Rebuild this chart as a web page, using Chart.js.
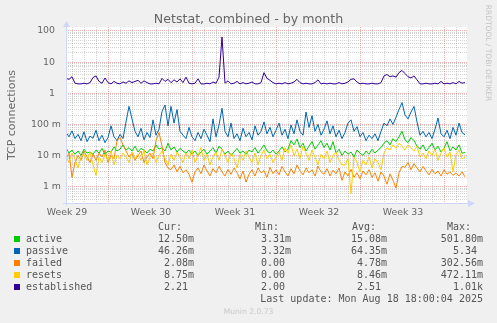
<!DOCTYPE html>
<html>
<head>
<meta charset="utf-8">
<script src="https://cdn.jsdelivr.net/npm/chart.js@4/dist/chart.umd.min.js"></script>
<style>
  html, body { margin: 0; padding: 0; background: #f0f0f0; }
  #wrap { position: relative; width: 497px; height: 323px; overflow: hidden; font-family: 'DejaVu Sans', sans-serif; color: #666; }
  canvas { position: absolute; left: 0; top: 0; }
  .t { position: absolute; white-space: pre; }
  #title { left: 0; top: 11px; width: 497px; text-align: center; font-size: 12.6px; line-height: 15px; }
  #ytitle { left: -88px; top: 108px; width: 200px; height: 14px; line-height: 14px; text-align: center; font-size: 11px; transform: rotate(-90deg); }
  #mark { left: 438px; top: 47px; width: 100px; height: 12px; line-height: 12px; text-align: center; font-size: 7.5px; color: #c4c4c4; transform: rotate(90deg); }
  #legend { position: absolute; left: 0; top: 0; width: 497px; height: 323px; font-family: 'DejaVu Sans Mono', monospace; font-size: 10px; line-height: 12px; color: #555; }
  .sw { position: absolute; width: 6px; height: 6px; left: 14px; }
  #munin { left: 0; width: 497px; top: 306px; text-align: center; font-size: 7.6px; line-height: 12px; color: #c8c8c8; }
</style>
</head>
<body>
<div id="wrap">
  <canvas id="c" width="497" height="323"></canvas>
  <div class="t" id="title">Netstat, combined - by month</div>
  <div class="t" id="ytitle">TCP connections</div>
  <div class="t" id="mark">RRDTOOL / TOBI OETIKER</div>
  <div id="legend"></div>
  <div class="t" id="munin">Munin 2.0.73</div>
</div>
<script>
// Time axis: one slot per 2-hour step, 401 slots across the month view.
const slotCount = 401;
const slotStep = 3;                        // samples below are every third slot
const weekLabels = ['Week 29', 'Week 30', 'Week 31', 'Week 32', 'Week 33'];
const weekStartSlots = [42, 126, 210, 294, 378];
const yTickValues = [0.001, 0.01, 0.1, 1, 10, 100];
const yTickLabels = ['1 m', '10 m', '100 m', '1\u2007', '10\u2007', '100\u2007'];

const seriesNames = ['active', 'passive', 'failed', 'resets', 'established'];
const seriesColors = ['#00CC00', '#0066B3', '#FF8000', '#FFCC00', '#330099'];

// Rates in thousandths (the "m" unit of the legend)
const activeMilli = [18,12,15,11,14,10,16,12,13,11, 15,12,17,11,14,13,19,14,16,22, 15,18,14,20,13,17,15,12,16,14,
  22,16,18,14,25,15,19,13,17,14, 12,15,11,14,10,13,16,11,14,18, 12,20,16,11,14,10,13,17,12,14,
  11,15,13,18,12,16,22,14,12,15, 11,14,19,13,16,30,22,34,18,25, 14,20,28,16,22,30,18,25,15,28,
  12,16,10,14,11,13,9,15,12,10, 14,11,16,12,15,18,25,30,22,35, 28,40,60,32,26,38,30,20,16,22,
  14,18,25,15,20,13,17,28,14,19, 15,22,12,12.5];
const passiveMilli = [55,40,62,35,48,30,58,28,42,36, 65,30,45,26,38,90,40,30,48,35, 120,380,150,60,40,75,32,55,38,140,
  45,70,260,420,90,380,110,300,60,45, 35,80,40,30,55,35,70,45,28,150, 40,95,330,60,40,110,35,50,30,75,
  40,55,32,90,45,60,120,50,80,40, 65,110,45,70,35,95,50,140,60,45, 250,80,190,60,100,45,70,130,50,90,
  40,65,35,55,110,140,60,85,40,55, 30,45,35,50,30,60,110,90,150,100, 170,300,500,200,150,250,380,120,45,60,
  40,55,35,70,160,50,40,65,35,80, 45,110,55,46.26];
const failedMilli = [8,12,2.0,6,10,7,14,9,6,11, 7,12,9,15,6,10,8,30,38,22, 14,9,12,7,10,14,6,9,12,8,
  30,55,20,6,4,3.5,5,3,4.5,2.8, 3.5,2.5,1.4,3,4,2.6,5,3.2,2.2,3.8, 2.8,4.5,3,2.2,3.6,2.5,4,2.8,1.8,3.2,
  1.4,2.5,3.5,2.2,4,2.8,3.3,2,4.2,2.6, 3.5,2.4,4.5,3,2.2,3.8,2.6,5,3.2,2.4, 4,2.8,3.5,2.2,4.6,3,2.5,3.8,2.2,3.4,
  2.6,4,1.6,3,2.2,3.6,2,2.8,1.8,3.2, 2.4,3.5,2,2.8,1.5,3,2.2,1.2,2.6,1.6, 0.9,2.8,4.5,4.2,6,3.5,5.5,4,3,4.5,
  3.2,2.4,3.6,2.6,3.2,2.2,3.5,2.5,3,2.3, 2.8,2.2,3,2.08];
const resetsMilli = [10,6,12,8,4,9,11,7,13,5, 2.3,9,6,11,7,14,5,10,8,12, 9,6,13,8,11,7,15,5,9,12,
  6,10,14,8,5,11,7,13,9,6, 12,8,15,6,10,18,7,11,5,9, 13,7,16,10,6,12,8,4,11,7,
  14,9,6,12,5,10,15,8,11,6, 9,13,7,18,12,22,10,16,8,20, 12,7,15,9,5,11,8,14,6,10,
  13,7,5,5,8,0.6,9,6,3,7, 5,9,4,8,6,3.5,12,18,15,22, 17,25,20,15,22,18,14,20,9,12,
  8,14,10,16,7,12,18,9,13,3, 11,15,8,8.75];
// Established connections (plain units)
const established = [3.0,2.8,3.4,2.1,2.0,2.0,2.1,2.0,2.2,3.2, 3.6,2.4,2.1,3.1,2.2,2.0,2.4,2.1,2.0,2.3, 2.1,2.5,2.2,2.4,2.6,2.1,2.5,2.2,2.0,2.0,
  2.1,2.0,3.0,2.4,2.8,2.2,2.7,2.3,2.9,2.2, 3.3,2.1,2.0,2.1,2.9,2.0,2.0,2.1,2.0,2.3, 2.1,3.3,64,2.1,2.5,2.0,2.1,2.4,2.0,2.2,
  2.0,2.1,2.3,2.0,2.0,2.2,4.6,3.0,2.6,2.2, 2.0,2.1,2.0,2.2,2.0,2.1,2.3,2.8,2.2,2.0, 2.1,2.0,2.0,2.2,2.7,2.0,2.1,2.0,2.1,2.0,
  2.0,2.2,2.0,2.1,2.3,2.8,2.9,2.3,2.0,2.1, 2.0,2.0,2.1,2.0,2.0,2.2,3.6,4.0,3.4,3.6, 3.3,4.6,5.4,4.3,3.4,3.1,3.6,2.7,2.0,2.0,
  2.1,2.0,2.0,2.1,2.0,2.4,2.0,2.1,2.0,2.2, 2.0,2.4,2.1,2.21];

// Legend statistics
const statCur = ['12.50m', '46.26m', ' 2.08m', ' 8.75m', '  2.21 '];
const statMin = [' 3.31m', ' 3.32m', '  0.00 ', '  0.00 ', '  2.00 '];
const statAvg = ['15.08m', '64.35m', ' 4.78m', ' 8.46m', '  2.51 '];
const statMax = ['501.80m', '  5.34 ', '302.56m', '472.11m', '  1.01k'];
const lastUpdate = 'Last update: Mon Aug 18 18:00:04 2025';

const toPoints = (arr, scale) => arr.map((v, i) => ({ x: i * slotStep, y: v * scale }));
const seriesData = [
  toPoints(activeMilli, 0.001),
  toPoints(passiveMilli, 0.001),
  toPoints(failedMilli, 0.001),
  toPoints(resetsMilli, 0.001),
  toPoints(established, 1)
];

const GRID = 'rgba(150,150,150,0.42)';
const MGRID = 'rgba(222,79,79,0.45)';
const AXIS = '#CFD6F8';

const isDecade = v => Math.abs(Math.log10(v) - Math.round(Math.log10(v))) < 1e-6;

const frame = {
  id: 'frame',
  beforeDraw(chart) {
    const { ctx, chartArea: a } = chart;
    ctx.save();
    ctx.fillStyle = '#ffffff';
    ctx.fillRect(a.left, a.top, a.right - a.left, a.bottom - a.top);
    ctx.restore();
  },
  afterDraw(chart) {
    const { ctx, chartArea: a } = chart;
    ctx.save();
    ctx.strokeStyle = AXIS;
    ctx.fillStyle = AXIS;
    ctx.lineWidth = 1;
    const yb = Math.round(a.bottom) + 0.5;
    const xl = Math.round(a.left) + 0.5;
    ctx.beginPath();
    ctx.moveTo(a.left - 3, yb); ctx.lineTo(a.right + 2, yb);
    ctx.moveTo(xl, a.bottom + 3); ctx.lineTo(xl, a.top);
    ctx.stroke();
    ctx.beginPath();
    ctx.moveTo(a.right + 1, yb - 3.5); ctx.lineTo(a.right + 1, yb + 3.5); ctx.lineTo(a.right + 8, yb); ctx.closePath();
    ctx.fill();
    ctx.beginPath();
    ctx.moveTo(xl - 3.5, a.top); ctx.lineTo(xl + 3.5, a.top); ctx.lineTo(xl, a.top - 6); ctx.closePath();
    ctx.fill();
    ctx.restore();
  }
};

const labelSlots = weekStartSlots.map(s => s - 41);
const daySlots = [];
for (let s = weekStartSlots[0] % 12; s < slotCount; s += 12) daySlots.push(s);

new Chart(document.getElementById('c'), {
  type: 'line',
  data: {
    datasets: seriesNames.map((name, k) => ({
      label: name,
      data: seriesData[k],
      borderColor: seriesColors[k],
      backgroundColor: seriesColors[k],
      borderWidth: 1,
      pointRadius: 0,
      tension: 0,
      order: seriesNames.length - k
    }))
  },
  options: {
    responsive: false,
    devicePixelRatio: 1,
    animation: false,
    parsing: false,
    layout: { padding: { left: 0, top: 27, right: 30, bottom: 100 } },
    plugins: { legend: { display: false }, tooltip: { enabled: false }, title: { display: false } },
    scales: {
      x: {
        type: 'linear',
        min: 0,
        max: slotCount,
        afterFit(s) { s.height = 20; },
        afterBuildTicks(s) {
          const vals = daySlots.concat(labelSlots).sort((a, b) => a - b);
          s.ticks = vals.map(v => ({ value: v }));
        },
        ticks: {
          autoSkip: false,
          maxRotation: 0,
          padding: 4,
          color: '#666',
          font: { family: 'DejaVu Sans', size: 9.4 },
          callback(v) {
            const i = labelSlots.indexOf(v);
            return i >= 0 ? weekLabels[i] : '';
          }
        },
        grid: {
          drawTicks: false,
          lineWidth: 1,
          color(ctx) {
            const v = ctx.tick ? ctx.tick.value : null;
            if (labelSlots.includes(v)) return 'rgba(0,0,0,0)';
            return weekStartSlots.includes(v) ? MGRID : GRID;
          }
        },
        border: { display: false, dash: [1, 1] }
      },
      y: {
        type: 'logarithmic',
        min: 0.00033,
        max: 134,
        afterFit(s) { s.width = 66; },
        afterBuildTicks(s) {
          const vals = [];
          for (let e = -4; e <= 2; e++) {
            for (let m = 1; m <= 9; m++) {
              const v = m * Math.pow(10, e);
              if (v >= s.min && v <= s.max) vals.push(v);
            }
          }
          s.ticks = vals.map(v => ({ value: v }));
        },
        ticks: {
          autoSkip: false,
          padding: 5,
          color: '#666',
          font: { family: 'DejaVu Sans', size: 9.4 },
          callback(v) {
            if (!isDecade(v)) return '';
            const i = yTickValues.findIndex(t => Math.abs(Math.log10(t) - Math.log10(v)) < 1e-6);
            return i >= 0 ? yTickLabels[i] : '';
          }
        },
        grid: {
          drawTicks: false,
          lineWidth: 1,
          color(ctx) {
            const v = ctx.tick ? ctx.tick.value : 1;
            return isDecade(v) ? MGRID : GRID;
          }
        },
        border: { display: false, dash: [1, 1] }
      }
    }
  },
  plugins: [frame]
});

// Legend table below the plot
const legend = document.getElementById('legend');
function put(text, opts) {
  const d = document.createElement('div');
  d.className = 't';
  d.textContent = text;
  d.style.top = opts.top + 'px';
  if (opts.left !== undefined) d.style.left = opts.left + 'px';
  if (opts.right !== undefined) d.style.right = opts.right + 'px';
  legend.appendChild(d);
}
const headerTop = 221;
put('Cur:', { top: headerTop, left: 158 });
put('Min:', { top: headerTop, left: 255 });
put('Avg:', { top: headerTop, left: 352 });
put('Max:', { top: headerTop, left: 447 });
seriesNames.forEach((name, k) => {
  const top = headerTop + 12 * (k + 1);
  const sw = document.createElement('div');
  sw.className = 'sw';
  sw.style.top = (top + 3) + 'px';
  sw.style.background = seriesColors[k];
  legend.appendChild(sw);
  put(name, { top, left: 26 });
  put(statCur[k], { top, right: 497 - 194 });
  put(statMin[k], { top, right: 497 - 291 });
  put(statAvg[k], { top, right: 497 - 387 });
  put(statMax[k], { top, right: 497 - 483 });
});
put(lastUpdate, { top: headerTop + 72, right: 497 - 483 });
</script>
</body>
</html>
